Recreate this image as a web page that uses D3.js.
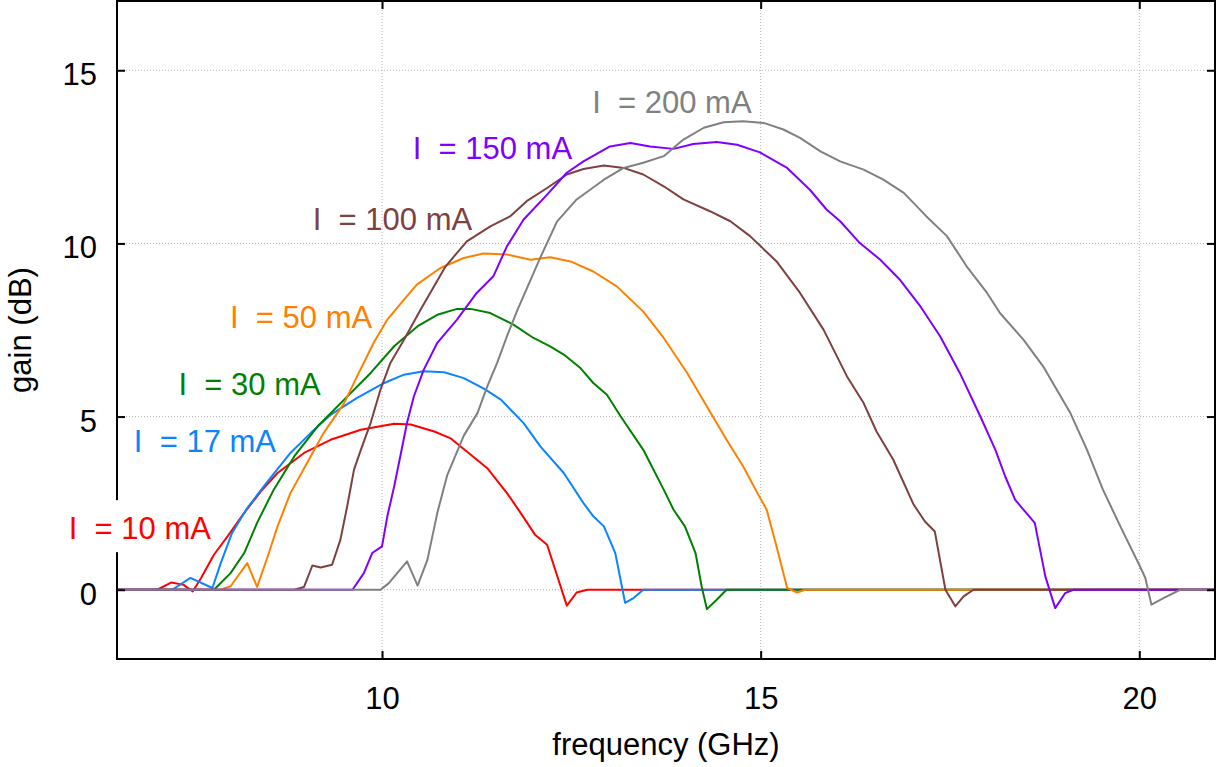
<!DOCTYPE html>
<html>
<head>
<meta charset="utf-8">
<script src="https://cdn.jsdelivr.net/npm/d3@7"></script>
<style>
  html, body { margin: 0; padding: 0; background: #ffffff; }
  svg { display: block; }
  text { font-family: "Liberation Sans", Arial, Helvetica, sans-serif; }
</style>
</head>
<body>
<svg id="chart" width="1216" height="767"></svg>
<script>
// ---------------- data ----------------
const seriesNames = ["I  = 10 mA", "I  = 17 mA", "I  = 30 mA", "I  = 50 mA", "I  = 100 mA", "I  = 150 mA", "I  = 200 mA"];
const seriesColors = ["#ff0000", "#0a84ff", "#008000", "#ff8000", "#7f4040", "#8000ff", "#808080"];

const freq10 = [6.5, 7.03, 7.22, 7.38, 7.50, 7.61, 7.78, 7.96, 8.18, 8.40, 8.62, 8.97, 9.32, 9.72, 10.16, 10.38, 10.69, 10.90, 11.12, 11.39, 11.65, 11.83, 12.02, 12.18, 12.44, 12.57, 12.71, 21];
const gain10 = [0, 0, 0.21, 0.14, -0.05, 0.34, 1.01, 1.54, 2.22, 2.84, 3.37, 3.95, 4.33, 4.62, 4.79, 4.77, 4.57, 4.38, 3.99, 3.51, 2.79, 2.22, 1.59, 1.30, -0.46, -0.08, 0, 0];

const freq17 = [6.5, 7.23, 7.47, 7.76, 7.87, 8.02, 8.22, 8.49, 8.79, 9.06, 9.32, 9.67, 10.03, 10.29, 10.55, 10.82, 11.08, 11.35, 11.57, 11.87, 12.09, 12.40, 12.66, 12.79, 12.93, 13.08, 13.21, 13.32, 13.45, 21];
const gain17 = [0, 0, 0.34, 0.05, 0.77, 1.64, 2.36, 3.13, 3.95, 4.53, 5.05, 5.54, 5.97, 6.21, 6.31, 6.28, 6.11, 5.80, 5.49, 4.81, 4.14, 3.37, 2.50, 2.12, 1.83, 1.06, -0.38, -0.24, 0, 0];

const freq30 = [6.5, 7.78, 8.00, 8.18, 8.35, 8.57, 8.84, 9.15, 9.50, 9.85, 10.16, 10.47, 10.73, 10.99, 11.17, 11.43, 11.74, 12.00, 12.22, 12.40, 12.62, 12.79, 12.97, 13.15, 13.45, 13.72, 13.85, 14.00, 14.14, 14.22, 14.29, 14.42, 14.55, 21];
const gain30 = [0, 0, 0.48, 1.06, 1.93, 2.89, 3.85, 4.72, 5.49, 6.26, 7.03, 7.61, 7.94, 8.11, 8.11, 7.99, 7.65, 7.27, 7.03, 6.79, 6.40, 5.97, 5.63, 5.01, 4.04, 2.89, 2.31, 1.83, 1.06, 0.10, -0.56, -0.29, 0, 0];

const freq50 = [6.5, 7.87, 8.00, 8.22, 8.35, 8.49, 8.62, 8.79, 9.01, 9.23, 9.50, 9.67, 9.89, 10.07, 10.29, 10.46, 10.77, 11.08, 11.34, 11.65, 11.96, 12.22, 12.49, 12.79, 13.10, 13.45, 13.72, 14.03, 14.29, 14.55, 14.77, 14.97, 15.08, 15.21, 15.35, 15.48, 15.59, 21];
const gain50 = [0, 0, 0.10, 0.77, 0.08, 0.96, 1.83, 2.79, 3.66, 4.53, 5.39, 6.16, 7.13, 7.80, 8.38, 8.81, 9.29, 9.58, 9.71, 9.68, 9.53, 9.60, 9.48, 9.19, 8.76, 8.03, 7.27, 6.26, 5.29, 4.33, 3.56, 2.74, 2.31, 1.25, 0.05, -0.08, 0, 0];

const freq100 = [6.5, 8.84, 8.97, 9.08, 9.19, 9.34, 9.45, 9.54, 9.63, 9.72, 9.85, 9.98, 10.11, 10.29, 10.51, 10.84, 11.12, 11.43, 11.69, 11.91, 12.18, 12.44, 12.66, 12.93, 13.19, 13.45, 13.72, 13.98, 14.33, 14.60, 14.86, 15.21, 15.52, 15.83, 16.14, 16.36, 16.53, 16.75, 17.02, 17.17, 17.30, 17.44, 17.57, 17.68, 17.81, 21];
const gain100 = [0, 0, 0.08, 0.70, 0.64, 0.72, 1.44, 2.41, 3.47, 4.04, 4.82, 5.78, 6.55, 7.22, 8.09, 9.34, 10.06, 10.49, 10.78, 11.22, 11.60, 11.99, 12.15, 12.25, 12.18, 11.99, 11.65, 11.27, 10.93, 10.64, 10.21, 9.48, 8.57, 7.51, 6.16, 5.39, 4.57, 3.76, 2.46, 1.97, 1.68, 0, -0.48, -0.19, 0, 0];

const freq150 = [6.5, 9.61, 9.76, 9.87, 10.00, 10.07, 10.16, 10.25, 10.33, 10.42, 10.55, 10.73, 10.99, 11.25, 11.47, 11.65, 11.87, 12.18, 12.44, 12.66, 13.01, 13.28, 13.54, 13.85, 14.11, 14.42, 14.69, 14.99, 15.35, 15.65, 15.87, 16.05, 16.31, 16.58, 16.84, 17.11, 17.37, 17.63, 17.90, 18.10, 18.23, 18.36, 18.49, 18.62, 18.76, 18.89, 19.02, 19.13, 21];
const gain150 = [0, 0, 0.48, 1.06, 1.25, 2.12, 2.98, 3.95, 4.82, 5.58, 6.35, 7.13, 7.80, 8.57, 9.05, 9.92, 10.69, 11.41, 12.04, 12.37, 12.80, 12.90, 12.80, 12.73, 12.87, 12.93, 12.85, 12.63, 12.18, 11.55, 10.98, 10.64, 10.01, 9.53, 8.95, 8.18, 7.32, 6.26, 5.01, 4.04, 3.27, 2.60, 2.26, 1.93, 0.38, -0.53, -0.10, 0, 0];

const freq200 = [6.5, 9.98, 10.09, 10.33, 10.47, 10.60, 10.73, 10.86, 11.08, 11.26, 11.39, 11.52, 11.65, 11.79, 12.09, 12.31, 12.57, 12.93, 13.19, 13.45, 13.72, 13.98, 14.25, 14.51, 14.77, 15.04, 15.30, 15.52, 15.79, 16.05, 16.36, 16.62, 16.89, 17.19, 17.46, 17.72, 17.99, 18.16, 18.47, 18.73, 19.09, 19.31, 19.52, 19.75, 20.01, 20.08, 20.16, 20.32, 20.54, 21];
const gain200 = [0, 0, 0.19, 0.82, 0.12, 0.87, 2.22, 3.30, 4.45, 5.10, 5.87, 6.55, 7.32, 8.09, 9.59, 10.63, 11.27, 11.84, 12.18, 12.33, 12.52, 13.00, 13.34, 13.50, 13.53, 13.48, 13.29, 13.05, 12.66, 12.37, 12.13, 11.84, 11.46, 10.78, 10.21, 9.34, 8.57, 7.99, 7.22, 6.45, 5.10, 4.04, 2.89, 1.83, 0.67, 0.34, -0.43, -0.24, 0, 0];

const xTicks = [10, 15, 20];
const yTicks = [0, 5, 10, 15];
const xDomain = [6.5, 21];
const yDomain = [-2, 17];
const xTitle = "frequency (GHz)";
const yTitle = "gain (dB)";

// label placement (right edge of text, baseline) in data units
const labelFreq = [7.74, 8.60, 9.19, 9.87, 11.19, 12.51, 14.88];
const labelGain = [1.46, 3.99, 5.61, 7.56, 10.40, 12.44, 13.78];

// ---------------- layout ----------------
const svg = d3.select("#chart");
const W = 1216, H = 767;
const m = { left: 117, right: 1, top: 1, bottom: 108 };
const pw = W - m.left - m.right, ph = H - m.top - m.bottom;

const x = d3.scaleLinear().domain(xDomain).range([m.left, m.left + pw]);
const y = d3.scaleLinear().domain(yDomain).range([m.top + ph, m.top]);

const fontFam = '"Liberation Sans", Arial, Helvetica, sans-serif';
const fs = 31;

svg.append("rect").attr("x", 0).attr("y", 0).attr("width", W).attr("height", H).attr("fill", "#fff");

// grid
const grid = svg.append("g");
grid.selectAll("line.vx").data(xTicks).enter().append("line")
  .attr("x1", d => x(d)).attr("x2", d => x(d))
  .attr("y1", m.top).attr("y2", m.top + ph)
  .attr("stroke", "#b4b4b4").attr("stroke-width", 1).attr("stroke-dasharray", "1,2");
grid.selectAll("line.hy").data(yTicks).enter().append("line")
  .attr("x1", m.left).attr("x2", m.left + pw)
  .attr("y1", d => y(d)).attr("y2", d => y(d))
  .attr("stroke", "#b4b4b4").attr("stroke-width", 1).attr("stroke-dasharray", "1,2");

// series
const allFreq = [freq10, freq17, freq30, freq50, freq100, freq150, freq200];
const allGain = [gain10, gain17, gain30, gain50, gain100, gain150, gain200];
const series = allFreq.map((fr, i) => fr.map((f, j) => [f, allGain[i][j]]));

const line = d3.line().x(d => x(d[0])).y(d => y(d[1]));
svg.append("g").selectAll("path").data(series).enter().append("path")
  .attr("d", line)
  .attr("fill", "none")
  .attr("stroke", (d, i) => seriesColors[i])
  .attr("stroke-width", 2)
  .attr("stroke-linejoin", "round");

// axes (ticks inward on all four sides)
const tl = 8;
const axL = svg.append("g").attr("transform", `translate(${m.left},0)`)
  .call(d3.axisLeft(y).tickValues(yTicks).tickSize(-tl).tickPadding(20).tickFormat(d3.format("d")));
const axB = svg.append("g").attr("transform", `translate(0,${m.top + ph})`)
  .call(d3.axisBottom(x).tickValues(xTicks).tickSize(-tl).tickPadding(28).tickFormat(d3.format("d")));
const axR = svg.append("g").attr("transform", `translate(${m.left + pw},0)`)
  .call(d3.axisRight(y).tickValues(yTicks).tickSize(-tl).tickFormat(""));
const axT = svg.append("g").attr("transform", `translate(0,${m.top})`)
  .call(d3.axisTop(x).tickValues(xTicks).tickSize(-tl).tickFormat(""));

[axL, axB, axR, axT].forEach(a => {
  a.select(".domain").remove();
  a.selectAll(".tick line").attr("stroke", "#000").attr("stroke-width", 2);
  a.selectAll(".tick text").attr("fill", "#000").attr("font-size", fs).attr("font-family", fontFam);
});
axL.selectAll(".tick text").attr("dy", "0.47em");

// frame
svg.append("rect")
  .attr("x", m.left).attr("y", m.top).attr("width", pw).attr("height", ph)
  .attr("fill", "none").attr("stroke", "#000").attr("stroke-width", 2);

// axis titles
svg.append("text")
  .attr("x", m.left + pw / 2).attr("y", 755)
  .attr("text-anchor", "middle").attr("font-size", fs).attr("fill", "#000")
  .text(xTitle);
svg.append("text")
  .attr("transform", `translate(31,${m.top + ph / 2}) rotate(-90)`)
  .attr("text-anchor", "middle").attr("font-size", fs).attr("fill", "#000")
  .text(yTitle);

// white backing for the label that sits over the left axis line
svg.append("rect")
  .attr("x", x(labelFreq[0]) - 150).attr("y", y(labelGain[0]) - 39)
  .attr("width", 151).attr("height", 52)
  .attr("fill", "#fff");

// series labels
svg.append("g").selectAll("text").data(seriesNames).enter().append("text")
  .attr("x", (d, i) => x(labelFreq[i]))
  .attr("y", (d, i) => y(labelGain[i]))
  .attr("text-anchor", "end")
  .attr("font-size", fs)
  .attr("fill", (d, i) => seriesColors[i])
  .style("white-space", "pre")
  .text(d => d);
</script>
</body>
</html>
